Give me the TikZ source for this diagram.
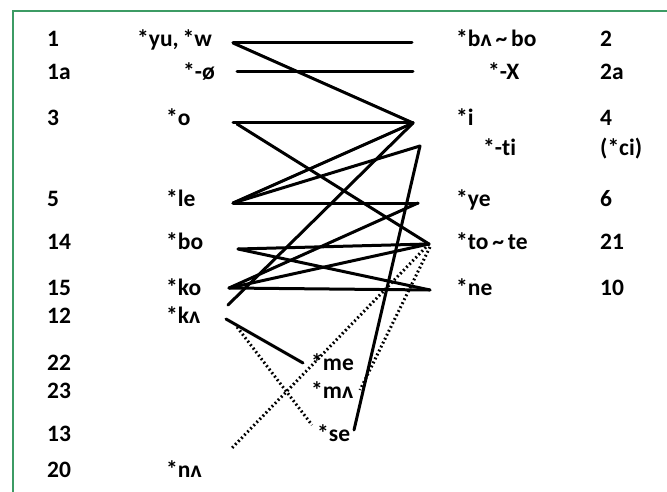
\documentclass[tikz,border=0pt]{standalone}
\usepackage{fontspec}
\setmainfont[Ligatures=NoCommon]{Carlito}
\begin{document}
\begin{tikzpicture}[x=1pt,y=-1pt,
  lab/.style={anchor=base west,inner sep=0pt,font=\fontsize{23.5}{26}\selectfont\bfseries},
  ln/.style={line width=3pt,line cap=round},
  dt/.style={line width=3pt,line cap=butt,dash pattern=on 1.8pt off 2.6pt}]
\definecolor{frame}{RGB}{60,155,100}
\useasboundingbox (0,0) rectangle (667,492);
\draw[frame,line width=2.5pt] (13,500) -- (13,11) -- (680,11);
% left numbers
\node[lab] (n1) at (47,47) {1};
\node[lab] (n1a) at (47,80) {1a};
\node[lab] (n3) at (47,126) {3};
\node[lab] (n5) at (47,206) {5};
\node[lab] (n14) at (47,249) {14};
\node[lab] (n15) at (47,295) {15};
\node[lab] (n12) at (47,323) {12};
\node[lab] (n22) at (47,370) {22};
\node[lab] (n23) at (47,398) {23};
\node[lab] (n13) at (47,441) {13};
\node[lab] (n20) at (47,477) {20};
% left forms
\node[lab] (yu) at (137,47) {*yu,\,*w};
\node[lab] (oo) at (183,80) {*-ø};
\node[lab] (o) at (166,126) {*o};
\node[lab] (le) at (166,206) {*le};
\node[lab] (bo) at (166,249) {*bo};
\node[lab] (ko) at (166,295) {*ko};
\node[lab] (ka) at (166,323) {*kʌ};
\node[lab] (na) at (166,477) {*nʌ};
% middle forms
\node[lab] (me) at (311,370) {*me};
\node[lab] (ma) at (311,398) {*mʌ};
\node[lab] (se) at (317,441) {*se};
% right forms
\node[lab] (ba) at (456,47) {*bʌ\,\textasciitilde\,bo};
\node[lab] (X) at (488,80) {*-X};
\node[lab] (i) at (456,126) {*i};
\node[lab] (ti) at (483,156) {*-ti};
\node[lab] (ye) at (456,206) {*ye};
\node[lab] (to) at (456,249) {*to\,\textasciitilde\,te};
\node[lab] (ne) at (456,295) {*ne};
% right numbers
\node[lab] (r2) at (600,47) {2};
\node[lab] (r2a) at (600,80) {2a};
\node[lab] (r4) at (600,126) {4};
\node[lab] (rci) at (600,156) {(*ci)};
\node[lab] (r6) at (600,206) {6};
\node[lab] (r21) at (600,249) {21};
\node[lab] (r10) at (600,295) {10};
% connector end points
\coordinate (Lyu) at (233,43);
\coordinate (Loo) at (237,72);
\coordinate (Lo) at (233,123);
\coordinate (Lo2) at (237,124);
\coordinate (Lle) at (233,203);
\coordinate (Lbo) at (238,249);
\coordinate (Lko) at (229,288);
\coordinate (Lka1) at (228,305);
\coordinate (Lka2) at (226,319);
\coordinate (Lka3) at (237,327);
\coordinate (L13) at (232,448);
\coordinate (Rba) at (412,43);
\coordinate (RX) at (413,72);
\coordinate (Ri) at (413,123);
\coordinate (Rti) at (420,146);
\coordinate (Rye) at (418,203);
\coordinate (Rto) at (429,244);
\coordinate (Rto2) at (430,247);
\coordinate (Rne) at (430,290);
\coordinate (Mme) at (303,363);
\coordinate (Mma) at (360,390);
\coordinate (Mse) at (312,425);
\coordinate (Mse2) at (354,430);
% solid connectors
\draw[ln] (Lyu) -- (Rba);
\draw[ln] (Lyu) -- (Ri);
\draw[ln] (Loo) -- (RX);
\draw[ln] (Lo) -- (Ri);
\draw[ln] (Lo2) -- (Rto);
\draw[ln] (Lle) -- (Ri);
\draw[ln] (Lle) -- (Rti);
\draw[ln] (Lle) -- (Rye);
\draw[ln] (Lbo) -- (Rto);
\draw[ln] (Lbo) -- (Rne);
\draw[ln] (Lko) -- (Rye);
\draw[ln] (Lko) -- (Rto);
\draw[ln] (Lko) -- (Rne);
\draw[ln] (Lka1) -- (Ri);
\draw[ln] (Lka2) -- (Mme);
\draw[ln] (Rti) -- (Mse2);
% dotted connectors
\draw[dt] (Lka3) -- (Mse);
\draw[dt] (Rto) -- (L13);
\draw[dt] (Rto2) -- (Mma);
\end{tikzpicture}
\end{document}
